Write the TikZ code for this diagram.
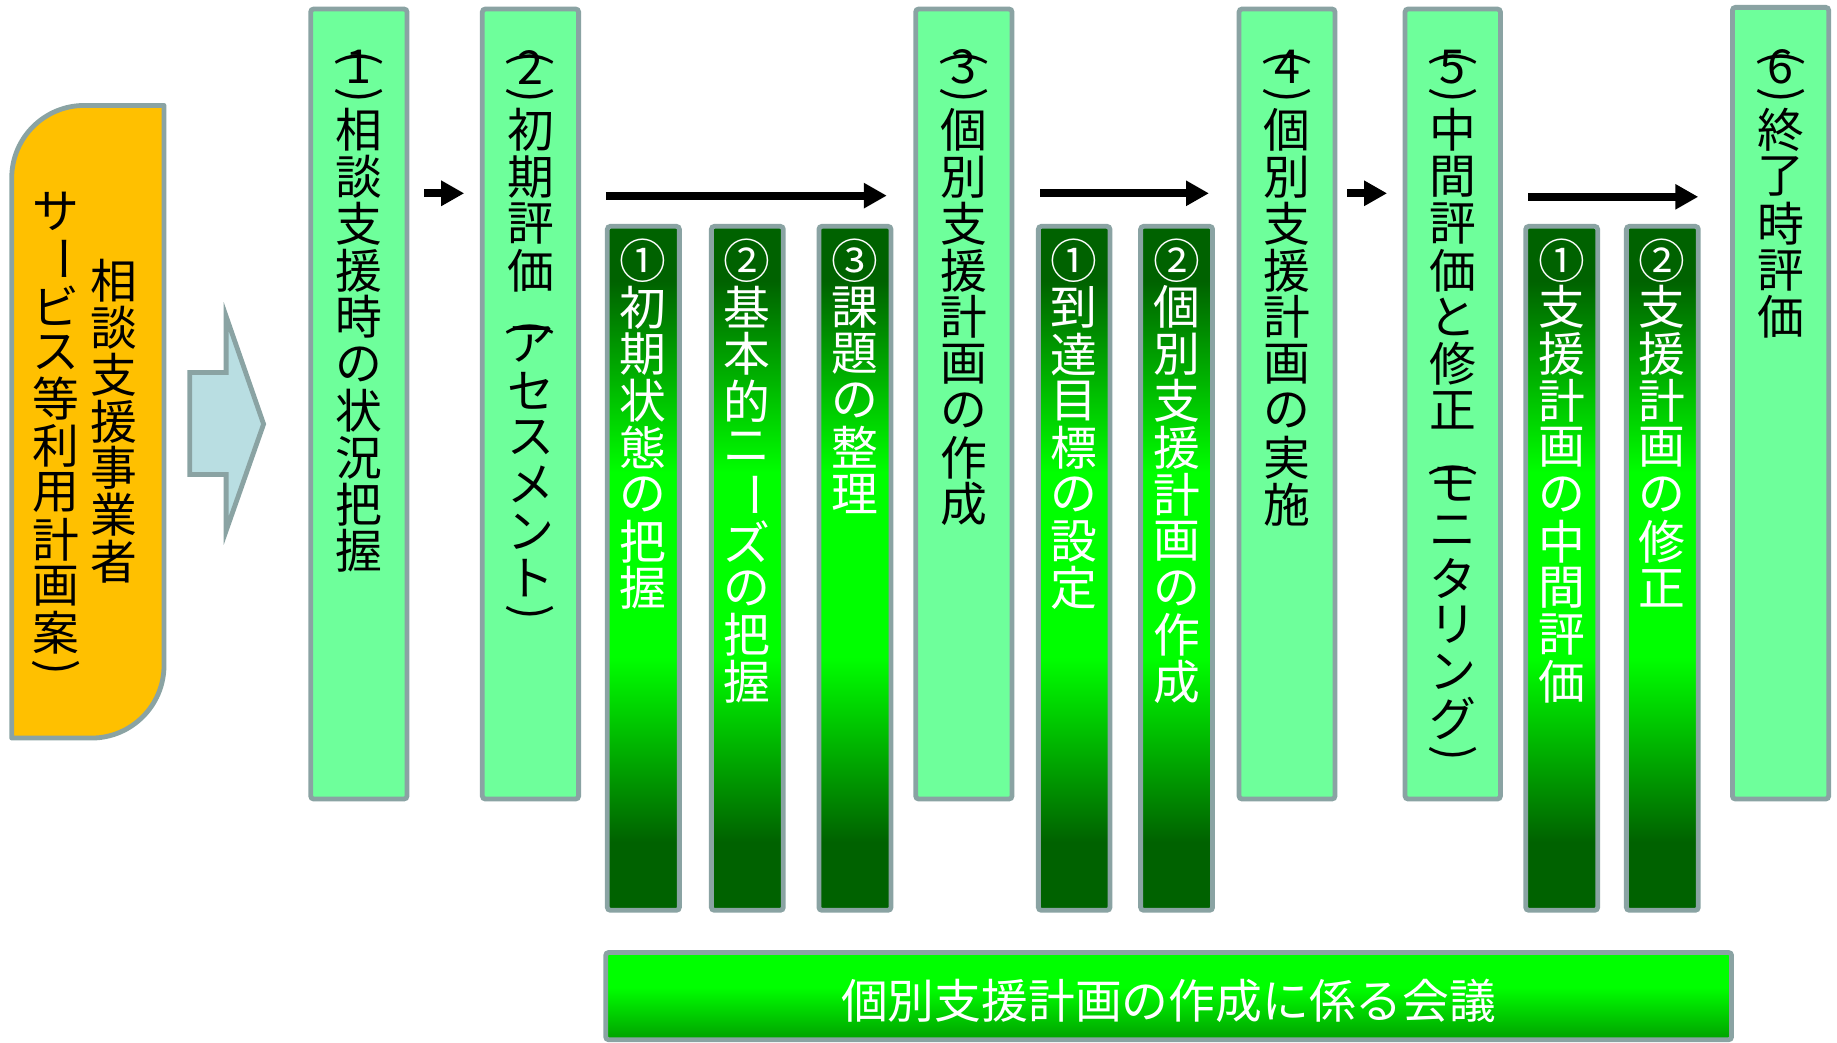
\documentclass[tikz,border=0pt]{standalone}
\usepackage{fontspec}
\setmainfont{Noto Sans CJK JP}
\usepackage{graphicx}
\usetikzlibrary{arrows.meta,fit}

\definecolor{bordc}{RGB}{138,163,163}
\definecolor{mainc}{RGB}{110,255,155}
\definecolor{orgc}{RGB}{255,192,0}
\definecolor{bluec}{RGB}{185,222,226}
\definecolor{dkg}{RGB}{0,98,0}
\definecolor{brg}{RGB}{0,255,0}
\definecolor{cfb}{RGB}{0,160,0}

\pgfdeclareverticalshading{darkgrad}{100bp}{color(0bp)=(dkg); color(30bp)=(dkg); color(43.5bp)=(brg); color(57bp)=(brg); color(71bp)=(dkg); color(100bp)=(dkg)}
\pgfdeclareverticalshading{confgrad}{100bp}{color(0bp)=(cfb); color(25bp)=(cfb); color(55bp)=(brg); color(100bp)=(brg)}

\def\pxu{0.5858pt}

% vertical text stacking
\newcommand\vslot[2]{\hbox to 1em{\hss\vbox to #1{\vss\hbox{#2}\vss}\hss}}
\newcommand\vopen{\vskip0.58em\vbox to 0pt{\hbox to 1em{\hss\rotatebox{-90}{(}\hss}\vss}}
\newcommand\vclose{\vslot{0.48em}{\rotatebox{-90}{)}}}
\newcommand\vbarchar{\vslot{1em}{\rotatebox[origin=c]{-90}{ー}}}
\newcommand\vdigit[1]{\vslot{0.72em}{#1}}
\let\vtxtEnd\relax
\def\vtxtChar#1{%
  \ifx#1（\vopen\else
  \ifx#1）\vclose\else
  \ifx#1ー\vbarchar\else
  \ifnum`#1<128 \vdigit{#1}\else
  \vslot{1em}{#1}\fi\fi\fi\fi}
\def\vtxtA#1{\ifx#1\vtxtEnd\else\vtxtChar#1\expandafter\vtxtA\fi}
\newcommand\vtxt[1]{\vbox{\offinterlineskip\vtxtA#1\vtxtEnd}}

\tikzset{
  mainbox/.style={draw=bordc, line width=2.4pt, fill=mainc, rounded corners=1.5pt, inner sep=0pt},
  darkbox/.style={draw=bordc, line width=2.4pt, shade, shading=darkgrad, rounded corners=1.5pt, inner sep=0pt},
  confbox/.style={draw=bordc, line width=2.4pt, shade, shading=confgrad, rounded corners=1.5pt, inner sep=0pt},
  vlabel/.style={inner sep=0pt, anchor=north, font=\fontsize{23.4}{23.4}\selectfont},
  wlabel/.style={vlabel, text=white},
  arr/.style={line width=4pt, -{Triangle[length=11.5pt,width=12pt]}},
}

\begin{document}
\begin{tikzpicture}[x=0.5858pt, y=-0.5858pt]
\useasboundingbox (0,0) rectangle (1568,890);
\fill[white] (0,0) rectangle (1568,890);

% orange box
\draw[bordc, line width=2.4pt, fill=orgc, line join=round]
  (10,630) -- (10,152) arc[start angle=180, end angle=270, radius=62]
  -- (140,90) -- (140,568) arc[start angle=0, end angle=90, radius=62]
  -- cycle;
\node[vlabel] (oa) at (97,219.5) {\vtxt{相談支援事業者}};
\node[vlabel] (ob) at (48,160.5) {\vtxt{サービス等利用計画案）}};

% blue block arrow
\draw[bordc, line width=2.4pt, fill=bluec, line join=miter]
  (162,318) -- (193,318) -- (193,270) -- (225,362) -- (193,453) -- (193,405) -- (162,405) -- cycle;

% main boxes
\node[mainbox, fit={(265.2,7.7) (347.4,682)}] (b1) {};
\node[mainbox, fit={(411.7,7.7) (493.9,682)}] (b2) {};
\node[mainbox, fit={(781.6,7.7) (863.8,682)}] (b3) {};
\node[mainbox, fit={(1057.6,7.7) (1139.5,682)}] (b4) {};
\node[mainbox, fit={(1199.3,7.7) (1280.7,682)}] (b5) {};
\node[mainbox, fit={(1478.7,6.3) (1560.9,682)}] (b6) {};

\node[vlabel] (t1) at (b1.north |- 0,19.5) {\vtxt{（1）相談支援時の状況把握}};
\node[vlabel] (t2) at (b2.north |- 0,19.5) {\vtxt{（2）初期評価（アセスメント）}};
\node[vlabel] (t3) at (b3.north |- 0,19.5) {\vtxt{（3）個別支援計画の作成}};
\node[vlabel] (t4) at (b4.north |- 0,19.5) {\vtxt{（4）個別支援計画の実施}};
\node[vlabel] (t5) at (b5.north |- 0,19.5) {\vtxt{（5）中間評価と修正（モニタリング）}};
\node[vlabel] (t6) at (b6.north |- 0,19.5) {\vtxt{（6）終了時評価}};

% dark sub boxes
\node[darkbox, fit={(518.4,193.2) (579.9,777)}] (s1) {};
\node[darkbox, fit={(607.2,193.2) (668.6,777)}] (s2) {};
\node[darkbox, fit={(699,193.2) (760.5,777)}] (s3) {};
\node[darkbox, fit={(886.3,193.2) (947.4,777)}] (s4) {};
\node[darkbox, fit={(973.6,193.2) (1035,777)}] (s5) {};
\node[darkbox, fit={(1302.3,193.2) (1363.7,777)}] (s6) {};
\node[darkbox, fit={(1388.2,193.2) (1449.6,777)}] (s7) {};

\node[wlabel] (u1) at (s1.north |- 0,202) {\vtxt{①初期状態の把握}};
\node[wlabel] (u2) at (s2.north |- 0,202) {\vtxt{②基本的ニーズの把握}};
\node[wlabel] (u3) at (s3.north |- 0,202) {\vtxt{③課題の整理}};
\node[wlabel] (u4) at (s4.north |- 0,202) {\vtxt{①到達目標の設定}};
\node[wlabel] (u5) at (s5.north |- 0,202) {\vtxt{②個別支援計画の作成}};
\node[wlabel] (u6) at (s6.north |- 0,202) {\vtxt{①支援計画の中間評価}};
\node[wlabel] (u7) at (s7.north |- 0,202) {\vtxt{②支援計画の修正}};

% conference box
\node[confbox, fit={(517,813) (1478,887.5)}] (cf) {};
\node[inner sep=0pt, text=white, font=\fontsize{23.4}{23.4}\selectfont] (cft) at ([yshift=-4*\pxu]cf.center) {個別支援計画の作成に係る会議};

% arrows
\coordinate (ya) at (0,165);
\coordinate (yb) at (0,167);
\coordinate (yc) at (0,168);
\draw[arr, shorten <=12.6*\pxu, shorten >=13.4*\pxu] (b1.east |- ya) -- (b2.west |- ya);
\draw[arr, shorten <=21.1*\pxu, shorten >=22.6*\pxu] (b2.east |- yb) -- (b3.west |- yb);
\draw[arr, shorten <=22.2*\pxu, shorten >=23.6*\pxu] (b3.east |- ya) -- (b4.west |- ya);
\draw[arr, shorten <=8.5*\pxu, shorten >=13.3*\pxu] (b4.east |- ya) -- (b5.west |- ya);
\draw[arr, shorten <=21.9*\pxu, shorten >=27.1*\pxu] (b5.east |- yc) -- (b6.west |- yc);
\end{tikzpicture}
\end{document}
